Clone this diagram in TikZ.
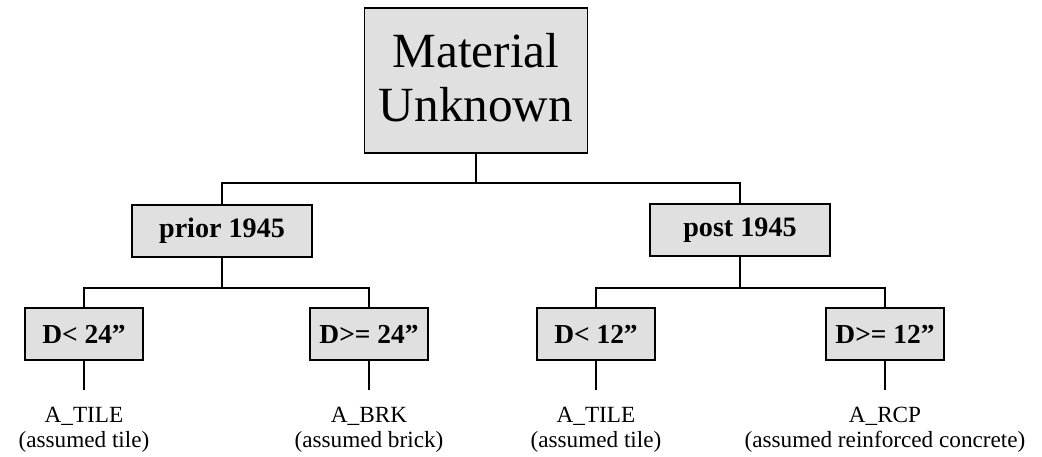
\documentclass[tikz,border=0pt]{standalone}
\usepackage{fontspec}
\setmainfont{Liberation Serif}
\begin{document}
\begin{tikzpicture}[x=0.025cm, y=-0.025cm,
		wire/.style={line width=1.2pt},
		box/.style={draw, line width=1.1pt, fill=black!12},
		datebox/.style={box, minimum width=4.5cm, minimum height=1.3cm,
			font=\bfseries\fontsize{20}{22}\selectfont},
		sizebox/.style={box, minimum width=2.95cm, minimum height=1.3cm,
			font=\bfseries\fontsize{19.5}{22}\selectfont},
		result/.style={anchor=north, align=center, inner xsep=0pt, inner ysep=12pt,
			font=\fontsize{16.5}{17.5}\selectfont}]
		\useasboundingbox (0,0) rectangle (1042,456);
		% root
		\node[box, minimum width=5.575cm, minimum height=3.625cm, align=center,
			font=\fontsize{35}{39}\selectfont] (top) at (476,80.5) {Material\\Unknown\vspace{4pt}};
		% dates
		\node[datebox] (prior) at (222,231) {prior 1945};
		\node[datebox] (post) at (740,230) {post 1945};
		% diameters
		\node[sizebox] (lt24) at (84,334) {D< 24”};
		\node[sizebox] (ge24) at (369,334) {D>= 24”};
		\node[sizebox] (lt12) at (596,334) {D< 12”};
		\node[sizebox] (ge12) at (885,334) {D>= 12”};
		% results
		\node[result] (tile1) at (84,390) {A\_TILE\\(assumed tile)};
		\node[result] (brk) at (369,390) {A\_BRK\\(assumed brick)};
		\node[result] (tile2) at (596,390) {A\_TILE\\(assumed tile)};
		\node[result] (rcp) at (885,390) {A\_RCP\\(assumed reinforced concrete)};
		% connectors
		\coordinate (split0) at (top.south |- 0,183);
		\coordinate (split1) at (prior.south |- 0,288);
		\coordinate (split2) at (post.south |- 0,288);
		\draw[wire] (top.south) -- (split0);
		\draw[wire] (prior.north) |- (split0) -| (post.north);
		\draw[wire] (prior.south) -- (split1);
		\draw[wire] (lt24.north) |- (split1) -| (ge24.north);
		\draw[wire] (post.south) -- (split2);
		\draw[wire] (lt12.north) |- (split2) -| (ge12.north);
		\draw[wire] (lt24.south) -- (tile1.north);
		\draw[wire] (ge24.south) -- (brk.north);
		\draw[wire] (lt12.south) -- (tile2.north);
		\draw[wire] (ge12.south) -- (rcp.north);
	\end{tikzpicture}
\end{document}
